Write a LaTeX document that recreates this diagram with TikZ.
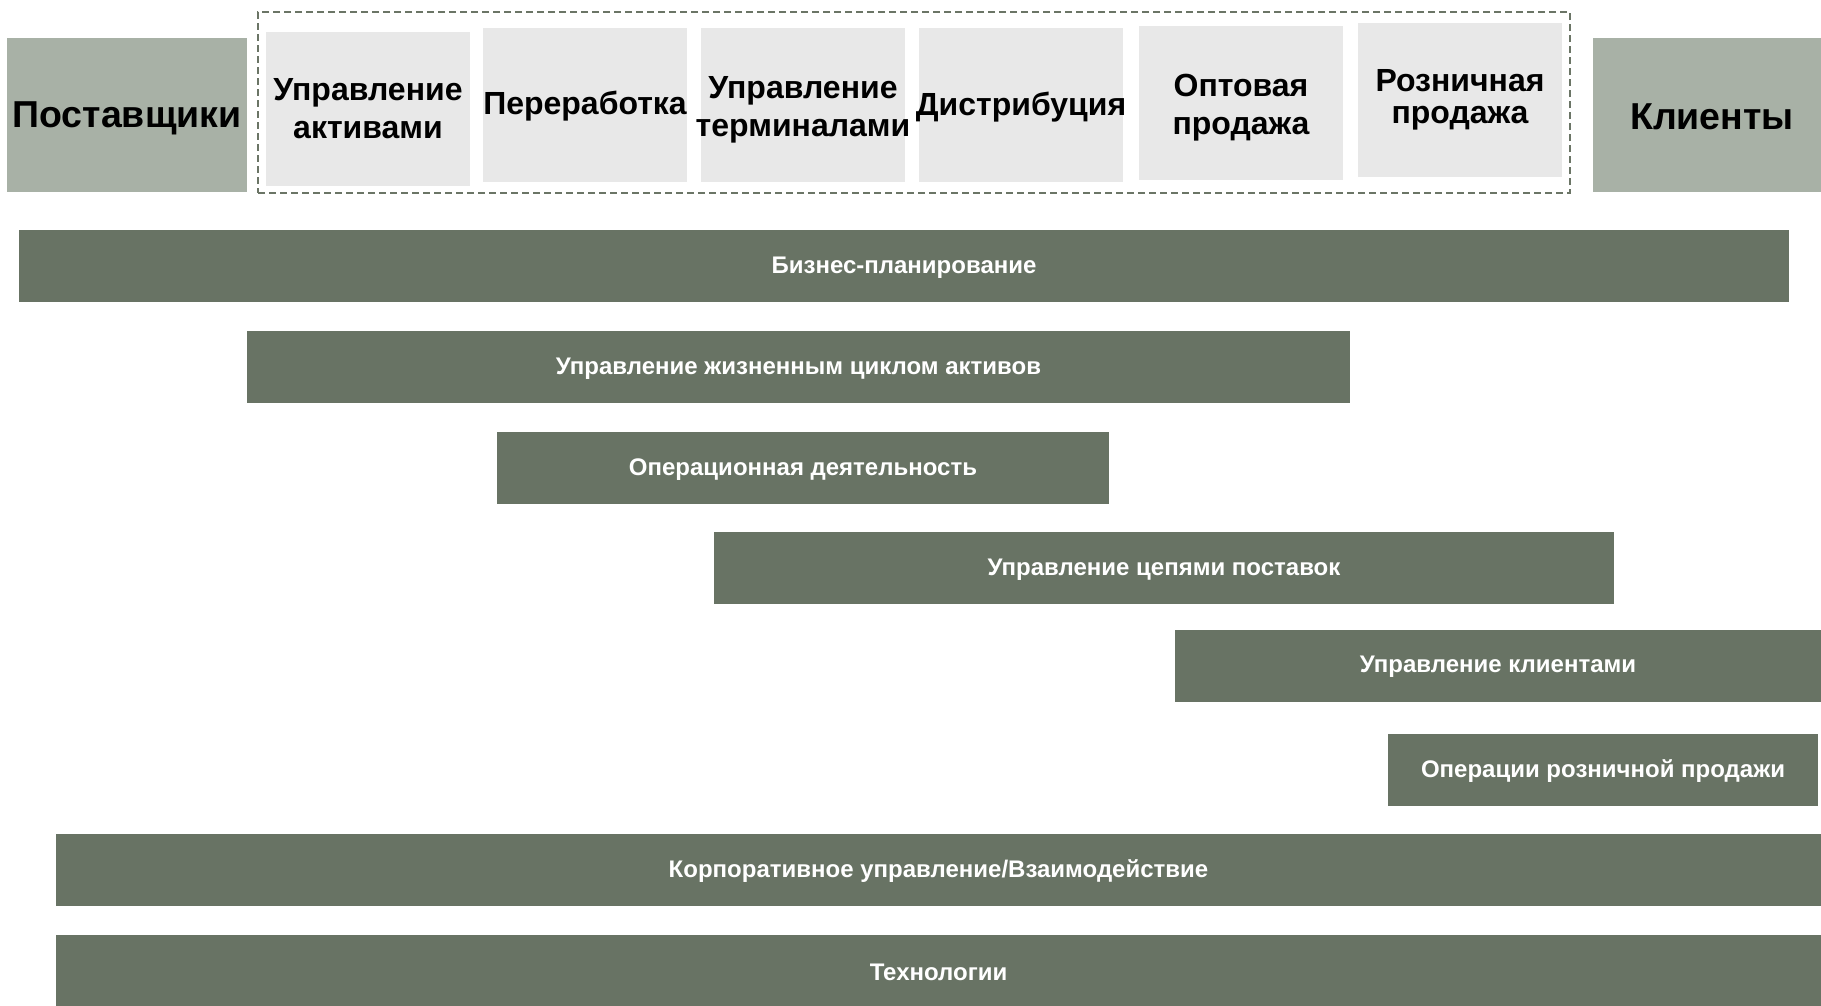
\documentclass[tikz,border=0pt]{standalone}
\usepackage{fontspec}
\setmainfont{Liberation Sans}
\definecolor{barfill}{HTML}{687364}
\definecolor{sidefill}{HTML}{A8B1A6}
\definecolor{cellfill}{HTML}{E8E8E8}
\definecolor{dashcol}{HTML}{6B7566}
\begin{document}
\begin{tikzpicture}[x=1pt,y=-1pt,
  sidebox/.style={fill=sidefill, inner sep=0pt, outer sep=0pt, minimum width=#1, minimum height=154pt},
  sidetext/.style={inner sep=0pt, align=center, font=\fontsize{37.5}{45}\selectfont\bfseries},
  cell/.style={fill=cellfill, inner sep=0pt, outer sep=0pt, minimum width=204pt, minimum height=154pt},
  celltext/.style={inner sep=0pt, align=center, font=\fontsize{32}{38}\selectfont\bfseries},
  bar/.style={fill=barfill, inner sep=0pt, outer sep=0pt, minimum width=#1, minimum height=72pt},
  bartext/.style={inner sep=0pt, text=white, align=center, font=\fontsize{24}{29}\selectfont\bfseries, yshift=-1.5pt},
  frame/.style={draw=dashcol, line width=1.6pt, dash pattern=on 7pt off 4pt, inner sep=0pt,
    minimum width=1312pt, minimum height=181pt}
]
\useasboundingbox (0,0) rectangle (1821,1005);
\fill[white] (0,0) rectangle (1821,1005);

\node[frame] (chain) at (914,102.5) {};

\node[sidebox=240pt] (sup) at (127,115) {};
\node[sidetext, yshift=-3pt] (supt) at (sup.center) {Поставщики};
\node[sidebox=228pt] (cli) at (1707,115) {};
\node[sidetext, yshift=-2pt, xshift=5pt] (clit) at (cli.center) {Клиенты};

\node[cell] (c1) at (368,108.5) {};
\node[celltext] (c1t) at (c1.center) {Управление\\активами};
\node[cell] (c2) at (585,105) {};
\node[celltext, yshift=-1pt] (c2t) at (c2.center) {Переработка};
\node[cell] (c3) at (803,105) {};
\node[celltext, yshift=-4.5pt] (c3t) at (c3.center) {Управление\\терминалами};
\node[cell] (c4) at (1021,105) {};
\node[celltext, yshift=-2pt] (c4t) at (c4.center) {Дистрибуция};
\node[cell] (c5) at (1241,103) {};
\node[celltext, yshift=-4.5pt] (c5t) at (c5.center) {Оптовая\\продажа};
\node[cell] (c6) at (1460,100) {};
\node[celltext, font=\fontsize{32}{32}\selectfont\bfseries] (c6t) at (c6.center) {Розничная\\продажа};

\node[bar=1770pt] (p1) at (904,266) {};
\node[bartext] at (p1.center) {Бизнес-планирование};
\node[bar=1103pt] (p2) at (798.5,367) {};
\node[bartext] at (p2.center) {Управление жизненным циклом активов};
\node[bar=612pt] (p3) at (803,468) {};
\node[bartext] at (p3.center) {Операционная деятельность};
\node[bar=900pt] (p4) at (1164,568) {};
\node[bartext] at (p4.center) {Управление цепями поставок};
\node[bar=646pt] (p5) at (1498,665.5) {};
\node[bartext] at (p5.center) {Управление клиентами};
\node[bar=430pt] (p6) at (1603,770) {};
\node[bartext] at (p6.center) {Операции розничной продажи};
\node[bar=1765pt] (p7) at (938.5,870) {};
\node[bartext] at (p7.center) {Корпоративное управление/Взаимодействие};
\node[bar=1765pt] (p8) at (938.5,971) {};
\node[bartext] at (p8.center) {Технологии};
\end{tikzpicture}
\end{document}
